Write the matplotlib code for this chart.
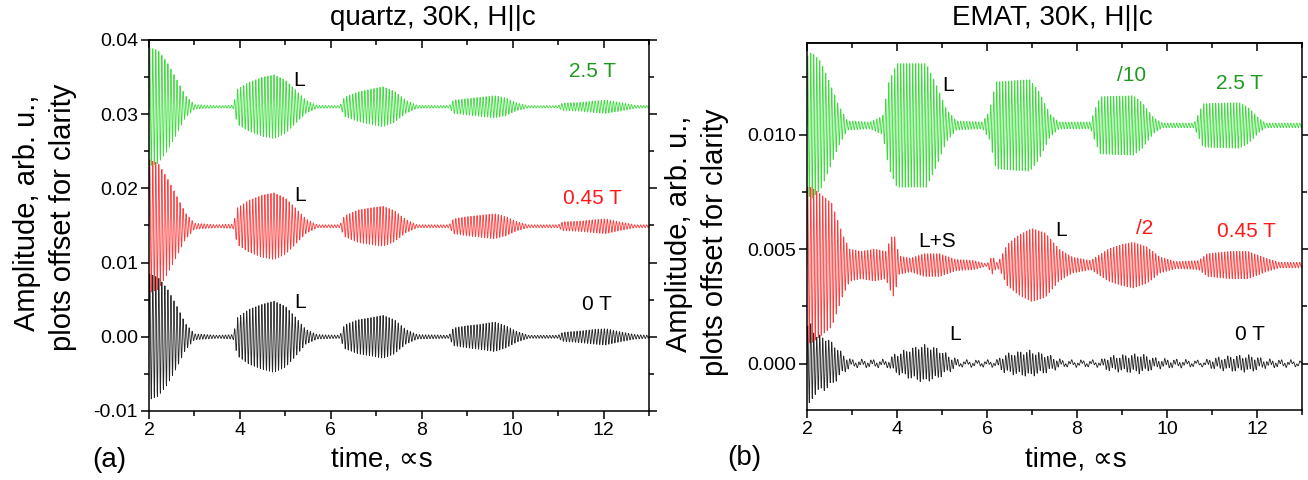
import numpy as np
import matplotlib
matplotlib.use("Agg")
import matplotlib.pyplot as plt
from matplotlib.ticker import MultipleLocator, FormatStrFormatter

plt.rcParams["font.family"] = ["Liberation Sans", "DejaVu Sans"]

W, H = 1308, 480
carrier_mhz = 15.0

# panel (a), quartz transducer: echo envelope knots (us) and half-amplitudes (x1e-3)
quartz_t = [2.0, 2.2, 2.4, 2.6, 2.8, 3.0, 3.5, 3.85, 3.95, 4.2, 4.5, 4.75,
            5.0, 5.2, 5.45, 5.7, 6.2, 6.3, 6.6, 6.9, 7.15, 7.4, 7.65, 7.9,
            8.6, 8.7, 9.0, 9.3, 9.6, 9.85, 10.1, 10.35, 11.0, 11.1, 11.5, 11.8,
            12.05, 12.35, 12.7, 13.0]
quartz_0T = [8.5, 8.0, 6.5, 4.3, 1.8, 0.4, 0.2, 0.3, 2.6, 3.7, 4.4, 4.8,
             4.1, 2.8, 1.0, 0.3, 0.2, 1.6, 2.3, 2.6, 2.9, 2.3, 1.0, 0.3,
             0.2, 1.2, 1.5, 1.7, 2.0, 1.5, 0.7, 0.2, 0.2, 0.6, 0.8, 1.0,
             1.1, 0.7, 0.3, 0.2]
quartz_045T = [9.0, 8.5, 6.5, 4.2, 1.8, 0.4, 0.2, 0.3, 2.5, 3.5, 4.2, 4.5,
               3.8, 2.6, 1.0, 0.2, 0.2, 1.4, 2.2, 2.5, 2.7, 2.1, 0.9, 0.2,
               0.2, 1.0, 1.3, 1.5, 1.7, 1.3, 0.6, 0.2, 0.2, 0.6, 0.7, 0.9,
               1.0, 0.6, 0.2, 0.2]
quartz_25T = [8.0, 7.6, 6.0, 3.8, 1.5, 0.3, 0.15, 0.2, 2.4, 3.3, 4.0, 4.3,
              3.6, 2.4, 0.9, 0.2, 0.15, 1.3, 2.0, 2.4, 2.7, 2.1, 0.9, 0.2,
              0.15, 0.9, 1.1, 1.3, 1.5, 1.2, 0.5, 0.15, 0.15, 0.5, 0.6, 0.8,
              0.9, 0.6, 0.2, 0.15]
quartz_offsets = [0.0, 0.0149, 0.031]

# panel (b), EMAT
emat_0T_t = [2.0, 2.05, 2.2, 2.4, 2.6, 2.8, 3.0, 3.8, 3.95, 4.3, 4.6, 4.9,
             5.2, 5.4, 6.2, 6.4, 6.7, 6.95, 7.3, 7.7, 8.5, 8.7, 9.1, 9.4,
             9.8, 10.8, 11.1, 11.5, 11.85, 12.2, 13.0]
emat_0T = [1.5, 1.8, 1.2, 1.1, 0.8, 0.35, 0.1, 0.1, 0.35, 0.6, 0.75, 0.6,
           0.25, 0.08, 0.08, 0.35, 0.45, 0.5, 0.35, 0.08, 0.08, 0.25, 0.32, 0.36,
           0.15, 0.06, 0.2, 0.28, 0.3, 0.12, 0.06]
emat_045T_t = [2.0, 2.1, 2.3, 2.55, 2.8, 2.95, 3.2, 3.5, 3.75, 3.85, 3.93, 4.05,
               4.3, 4.6, 4.95, 5.3, 5.7, 6.0, 6.12, 6.22, 6.3, 6.45, 6.7, 7.0,
               7.3, 7.6, 7.9, 8.3, 8.5, 8.7, 9.0, 9.25, 9.55, 9.85, 10.2, 10.7,
               10.9, 11.4, 11.8, 12.2, 12.5, 13.0]
emat_045T = [3.4, 3.4, 3.1, 2.7, 1.3, 0.7, 0.6, 0.7, 0.6, 1.1, 1.4, 0.4,
             0.3, 0.5, 0.5, 0.25, 0.2, 0.05, 0.4, 0.1, 0.3, 0.9, 1.3, 1.6,
             1.4, 0.7, 0.35, 0.2, 0.45, 0.7, 0.9, 1.0, 0.8, 0.35, 0.15, 0.2,
             0.5, 0.6, 0.6, 0.3, 0.12, 0.12]
emat_25T_t = [2.0, 2.1, 2.3, 2.5, 2.7, 2.9, 3.4, 3.68, 3.82, 4.0, 4.65, 4.87,
              5.1, 5.32, 5.9, 6.05, 6.2, 6.95, 7.15, 7.4, 7.6, 8.3, 8.42, 8.52,
              9.25, 9.45, 9.7, 9.9, 10.6, 10.7, 10.8, 11.6, 11.8, 12.05, 12.2, 13.0]
emat_25T = [3.0, 3.2, 2.8, 1.9, 0.9, 0.2, 0.15, 0.4, 1.9, 2.7, 2.7, 1.8,
            0.7, 0.2, 0.15, 0.6, 1.9, 2.0, 1.5, 0.5, 0.15, 0.15, 0.8, 1.25,
            1.3, 1.0, 0.35, 0.1, 0.1, 0.5, 0.95, 1.0, 0.8, 0.3, 0.1, 0.1]
emat_offsets = [0.0, 0.0043, 0.0104]
emat_0T_ripple = 0.09  # slow baseline wiggle on the 0 T trace (x1e-3)

c_black, c_red, c_green = "#262626", "#ff3b3b", "#3ddc3d"
t_red, t_green = "#ff1a1a", "#1f9a1f"


def trace(kt, ka, offset, ripple=0.0):
    t = np.linspace(2.0, 13.0, 16000)
    env = np.interp(t, kt, ka) * 1e-3
    y = offset + env * np.sin(2 * np.pi * carrier_mhz * (t - 2.0))
    if ripple:
        y += ripple * 1e-3 * np.sin(2 * np.pi * 4.3 * (t - 2.0))
    return t, y


def style(ax, ymajor, yminor, fmt):
    ax.set_xlim(2, 13)
    ax.xaxis.set_major_locator(MultipleLocator(2))
    ax.xaxis.set_minor_locator(MultipleLocator(1))
    ax.yaxis.set_major_locator(MultipleLocator(ymajor))
    ax.yaxis.set_minor_locator(MultipleLocator(yminor))
    ax.yaxis.set_major_formatter(FormatStrFormatter(fmt))
    ax.tick_params(which="both", direction="out", width=1.1, labelsize=14,
                   left=True, right=True, bottom=True, top=False)
    ax.tick_params(which="major", length=5.5, pad=2.5)
    ax.tick_params(which="minor", length=3.5)
    top = ax.secondary_xaxis("top")
    top.xaxis.set_major_locator(MultipleLocator(2))
    top.xaxis.set_minor_locator(MultipleLocator(1))
    top.tick_params(which="both", direction="in", width=1.1, labeltop=False)
    top.tick_params(which="major", length=5.5)
    top.tick_params(which="minor", length=3.5)
    for s in ax.spines.values():
        s.set_linewidth(1.1)
    top.spines["top"].set_linewidth(1.1)


def px(x, y):
    return x / W, 1 - y / H


fig = plt.figure(figsize=(W / 100, H / 100), dpi=100)

# ---- (a) quartz
ax1 = fig.add_axes([149 / W, 1 - 411 / H, 500 / W, 371 / H])
for amps, off, col in [(quartz_0T, quartz_offsets[0], c_black),
                       (quartz_25T, quartz_offsets[2], c_green),
                       (quartz_045T, quartz_offsets[1], c_red)]:
    t, y = trace(quartz_t, amps, off)
    ax1.plot(t, y, color=col, lw=0.6)
ax1.set_ylim(-0.01, 0.04)
style(ax1, 0.01, 0.005, "%.2f")
for (x, y, s, c) in [(5.3, 0.0346, "L", "k"), (5.32, 0.0191, "L", "k"),
                     (5.32, 0.0046, "L", "k"), (11.76, 0.0357, "2.5 T", t_green),
                     (11.76, 0.0187, "0.45 T", t_red), (11.85, 0.0043, "0 T", "k")]:
    ax1.text(x, y, s, color=c, fontsize=15, ha="center", va="center")

# ---- (b) EMAT
ax2 = fig.add_axes([807 / W, 1 - 410 / H, 495 / W, 367 / H])
for kt, amps, off, col, rip in [(emat_0T_t, emat_0T, emat_offsets[0], c_black, emat_0T_ripple),
                                (emat_25T_t, emat_25T, emat_offsets[2], c_green, 0.0),
                                (emat_045T_t, emat_045T, emat_offsets[1], c_red, 0.0)]:
    t, y = trace(kt, amps, off, rip)
    ax2.plot(t, y, color=col, lw=0.6)
ax2.set_ylim(-0.00203, 0.0140)
style(ax2, 0.005, 0.0025, "%.3f")
for (x, y, s, c) in [(5.14, 0.01215, "L", "k"), (9.21, 0.0126, "/10", t_green),
                     (11.6, 0.01224, "2.5 T", t_green), (4.9, 0.00535, "L+S", "k"),
                     (7.64, 0.00579, "L", "k"), (9.5, 0.00588, "/2", t_red),
                     (11.76, 0.00575, "0.45 T", t_red), (5.3, 0.00127, "L", "k"),
                     (11.85, 0.00127, "0 T", "k")]:
    ax2.text(x, y, s, color=c, fontsize=15, ha="center", va="center")

# ---- titles and labels
fig.text(*px(433, 18), "quartz, 30K, H||c", fontsize=20, ha="center", va="center")
fig.text(*px(1052, 18), "EMAT, 30K, H||c", fontsize=20, ha="center", va="center")
fig.text(*px(382, 460), "time, \u221ds", fontsize=20, ha="center", va="center")
fig.text(*px(1076, 460), "time, \u221ds", fontsize=20, ha="center", va="center")
fig.text(*px(109, 460), "(a)", fontsize=20, ha="center", va="center")
fig.text(*px(744, 458), "(b)", fontsize=20, ha="center", va="center")
fig.text(*px(27, 213), "Amplitude, arb. u.,", fontsize=21, rotation=90, ha="center", va="center")
fig.text(*px(63, 217), "plots offset for clarity", fontsize=21, rotation=90, ha="center", va="center")
fig.text(*px(679, 234), "Amplitude, arb. u.,", fontsize=21, rotation=90, ha="center", va="center")
fig.text(*px(715, 242), "plots offset for clarity", fontsize=21, rotation=90, ha="center", va="center")

fig.savefig("out.png", dpi=100)
